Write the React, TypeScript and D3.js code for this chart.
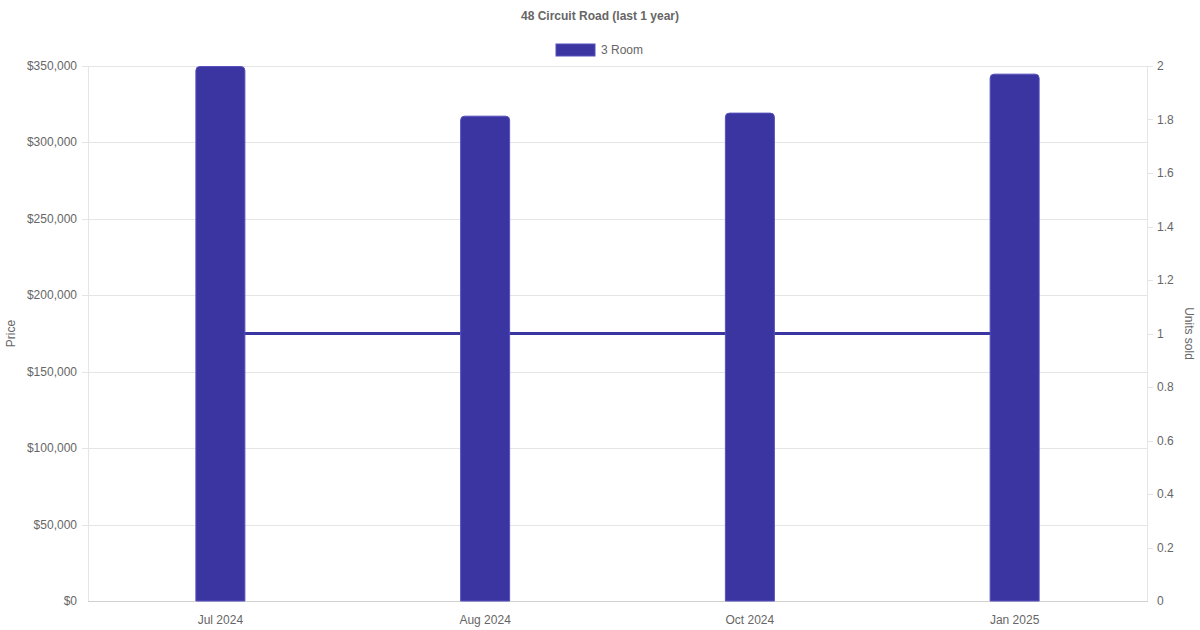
import React from "react";
import * as d3 from "d3";

const categories = ["Jul 2024", "Aug 2024", "Oct 2024", "Jan 2025"];
const prices = [350000, 317500, 319500, 345000];
const unitsSold = [1, 1, 1, 1];
const priceTicks = [0, 50000, 100000, 150000, 200000, 250000, 300000, 350000];
const unitTicks = [0, 0.2, 0.4, 0.6, 0.8, 1, 1.2, 1.4, 1.6, 1.8, 2];
const seriesName = "3 Room";
const chartTitle = "48 Circuit Road (last 1 year)";

const W = 1200;
const H = 630;
const left = 88;
const right = 1147;
const top = 66;
const bottom = 601;
const barColor = "#3a35a0";
const barBorder = "#5550bd";
const textColor = "#666";
const gridColor = "#e5e5e5";
const font = "'Liberation Sans', Arial, Helvetica, sans-serif";

function roundedTopBar(x: number, y: number, w: number, h: number, r: number) {
  const rr = Math.min(r, h / 2, w / 2);
  return `M${x},${y + h}V${y + rr}Q${x},${y} ${x + rr},${y}H${x + w - rr}Q${x + w},${y} ${x + w},${y + rr}V${y + h}Z`;
}

export default function App() {
  const x = d3.scaleBand<string>().domain(categories).range([left, right]);
  const yL = d3.scaleLinear().domain([0, 350000]).range([bottom, top]);
  const yR = d3.scaleLinear().domain([0, 2]).range([bottom, top]);
  const fmtPrice = (v: number) => "$" + d3.format(",")(v);
  const fmtUnit = (v: number) => d3.format("~g")(+v.toFixed(1));
  const barW = 50;
  const line = d3
    .line<number>()
    .x((_, i) => (x(categories[i]) as number) + x.bandwidth() / 2)
    .y((d) => yR(d));

  return (
    <svg
      width={W}
      height={H}
      style={{ position: "absolute", left: 0, top: 0, fontFamily: font }}
    >
      <rect width={W} height={H} fill="#fff" />
      <text x={600} y={20} textAnchor="middle" fontSize={12} fontWeight="bold" fill={textColor}>
        {chartTitle}
      </text>
      {/* legend */}
      <rect x={556} y={44} width={39} height={12} fill={barColor} stroke={barBorder} strokeWidth={1} />
      <text x={601} y={54} fontSize={12} fill={textColor}>
        {seriesName}
      </text>

      {/* grid */}
      {priceTicks.map((t) => (
        <g key={"g" + t}>
          {t !== 0 && (
            <line x1={left - 6} x2={right} y1={Math.round(yL(t)) + 0.5} y2={Math.round(yL(t)) + 0.5} stroke={gridColor} />
          )}
          <text x={77} y={yL(t) + 4} textAnchor="end" fontSize={12} fill={textColor}>
            {fmtPrice(t)}
          </text>
        </g>
      ))}
      {unitTicks.map((t) => (
        <g key={"u" + t}>
          {t !== 0 && (
            <line x1={right} x2={right + 6} y1={Math.round(yR(t)) + 0.5} y2={Math.round(yR(t)) + 0.5} stroke={gridColor} />
          )}
          <text x={1157} y={yR(t) + 4} textAnchor="start" fontSize={12} fill={textColor}>
            {fmtUnit(t)}
          </text>
        </g>
      ))}
      <line x1={left + 0.5} x2={left + 0.5} y1={top} y2={bottom} stroke={gridColor} />
      <line x1={right + 0.5} x2={right + 0.5} y1={top} y2={bottom} stroke={gridColor} />
      <line x1={left} x2={right + 1} y1={bottom + 0.5} y2={bottom + 0.5} stroke="#d0d0d0" />

      {/* axis titles */}
      <text transform={`translate(15,${(top + bottom) / 2}) rotate(-90)`} textAnchor="middle" fontSize={12} fill={textColor}>
        Price
      </text>
      <text transform={`translate(1185,${(top + bottom) / 2}) rotate(90)`} textAnchor="middle" fontSize={12} fill={textColor}>
        Units sold
      </text>

      {/* x labels */}
      {categories.map((c) => (
        <text key={"xl" + c} x={(x(c) as number) + x.bandwidth() / 2} y={624} textAnchor="middle" fontSize={12} fill={textColor}>
          {c}
        </text>
      ))}

      {/* line */}
      <path d={line(unitsSold) || ""} fill="none" stroke={barColor} strokeWidth={3} />

      {/* bars */}
      {categories.map((c, i) => {
        const cx = (x(c) as number) + x.bandwidth() / 2;
        const y0 = yL(prices[i]);
        return (
          <path
            key={"b" + c}
            d={roundedTopBar(cx - barW / 2 + 0.5, y0 + 0.5, barW - 1, bottom - y0 - 0.5, 4)}
            fill={barColor}
            stroke={barBorder}
            strokeWidth={1}
          />
        );
      })}
    </svg>
  );
}
